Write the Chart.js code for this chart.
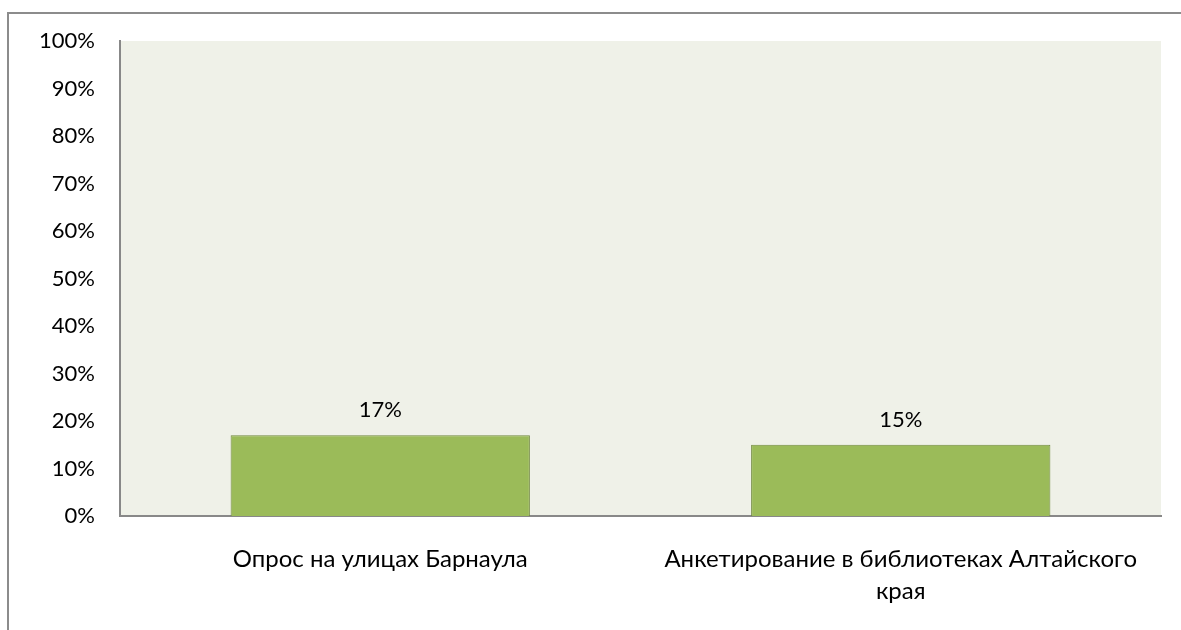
<!DOCTYPE html>
<html>
<head>
<meta charset="utf-8">
<script src="https://cdn.jsdelivr.net/npm/chart.js@4/dist/chart.umd.min.js"></script>
<style>
  html, body { margin: 0; padding: 0; background: #ffffff; }
  #wrap { position: relative; width: 1181px; height: 630px; overflow: hidden; }
  canvas { position: absolute; left: 0; top: 0; }
</style>
</head>
<body>
<div id="wrap"><canvas id="c" width="1181" height="630"></canvas></div>
<script>
const categories = [
  ["Опрос на улицах Барнаула"],
  ["Анкетирование в библиотеках Алтайского", "края"]
];
const values = [17, 15];
const yTicks = [0, 10, 20, 30, 40, 50, 60, 70, 80, 90, 100];

const FONT = "Lato, 'Liberation Sans', sans-serif";

const decor = {
  id: 'decor',
  beforeDraw(chart) {
    const { ctx, chartArea: a } = chart;
    ctx.save();
    ctx.fillStyle = '#EFF1E8';
    ctx.fillRect(a.left, a.top, a.right - a.left, a.bottom - a.top);
    // outer frame (left & top visible)
    ctx.strokeStyle = '#8C8C8C';
    ctx.lineWidth = 2;
    ctx.beginPath();
    ctx.moveTo(8, 640);
    ctx.lineTo(8, 13);
    ctx.lineTo(1200, 13);
    ctx.stroke();
    ctx.restore();
  },
  afterDatasetsDraw(chart) {
    const { ctx } = chart;
    const meta = chart.getDatasetMeta(0);
    ctx.save();
    ctx.font = "22px " + FONT;
    ctx.fillStyle = '#000';
    ctx.textAlign = 'center';
    ctx.textBaseline = 'middle';
    meta.data.forEach((bar, i) => {
      ctx.fillText(values[i] + '%', bar.x, bar.y - 25);
    });
    ctx.restore();
  }
};

new Chart(document.getElementById('c'), {
  type: 'bar',
  data: {
    labels: categories,
    datasets: [{
      data: values,
      backgroundColor: '#9BBB59',
      borderColor: '#71893F',
      borderWidth: 1,
      barPercentage: 0.575,
      categoryPercentage: 1.0
    }]
  },
  options: {
    responsive: false,
    animation: false,
    devicePixelRatio: 1,
    layout: { padding: { left: 0, top: 41, right: 20, bottom: 0 } },
    plugins: { legend: { display: false }, tooltip: { enabled: false } },
    scales: {
      x: {
        grid: { display: false, drawTicks: false },
        border: { display: true, color: '#888888', width: 2 },
        ticks: {
          color: '#000',
          font: { family: FONT, size: 24, lineHeight: 1.35 },
          padding: 27,
          maxRotation: 0,
          autoSkip: false
        },
        afterFit(s) { s.height = 114; }
      },
      y: {
        min: 0, max: 100,
        grid: { display: false, drawTicks: false },
        border: { display: true, color: '#888888', width: 2 },
        afterBuildTicks(s) { s.ticks = yTicks.map(v => ({ value: v })); },
        ticks: {
          color: '#000',
          font: { family: FONT, size: 22 },
          padding: 25,
          callback: v => v + '%'
        },
        afterFit(s) { s.width = 120; }
      }
    }
  },
  plugins: [decor]
});
</script>
</body>
</html>
